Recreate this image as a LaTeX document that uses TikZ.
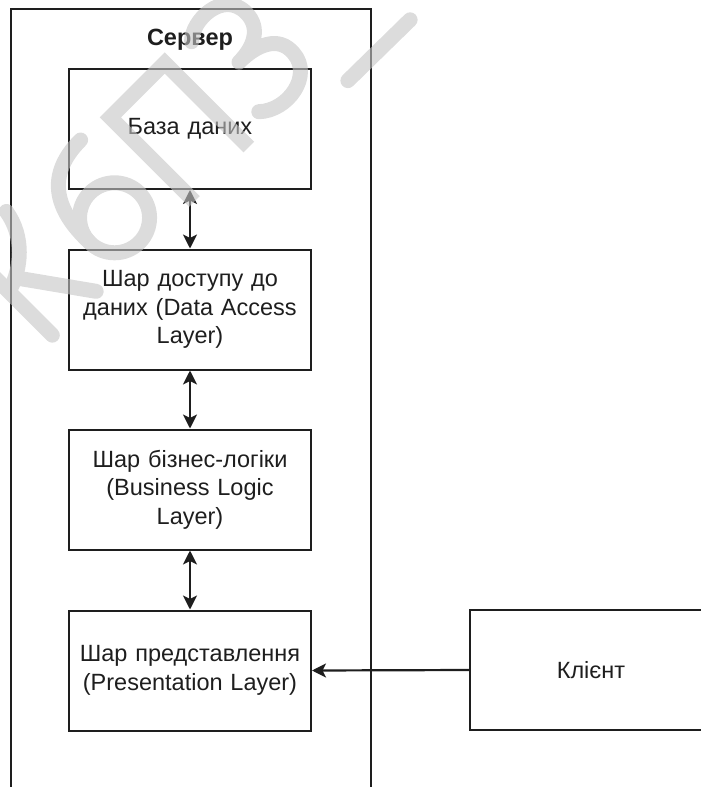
\documentclass[tikz,border=0pt]{standalone}
\usepackage{fontspec}
\setmainfont{Liberation Sans}
\usetikzlibrary{arrows.meta}

\definecolor{ink}{HTML}{1E1E1E}
\definecolor{wmgray}{RGB}{197,197,197}

\tikzset{
  boxtext/.style={font=\fontsize{23.5}{28.5}\selectfont, text=ink},
  layer/.style={boxtext, draw=ink, line width=2pt, minimum width=242pt,
    minimum height=120pt, inner sep=0pt, align=center, text width=238pt},
  container/.style={draw=ink, line width=2pt, minimum width=360pt,
    minimum height=820pt, inner sep=0pt, anchor=north west},
  >={Stealth[length=14pt, width=14pt, inset=3.5pt]},
  link/.style={draw=ink, line width=2.2pt, <->},
  feed/.style={draw=ink, line width=2.2pt, ->},
  wm/.style={draw=wmgray, line width=15pt, line cap=round, line join=round},
}

\begin{document}
\begin{tikzpicture}[x=1pt, y=-1pt]
  \useasboundingbox (0,0) rectangle (701,787);
  \clip (0,0) rectangle (701,787);

  % server container, open towards the bottom edge
  \node[container] (server) at (10,8) {};
  \node[boxtext, font=\fontsize{23.5}{28.5}\selectfont\bfseries] (title) at (190,40) {Сервер};

  % server layers
  \node[layer] (db)   at (190,129)   {База даних};
  \node[layer] (dal)  at (190,309.5) {Шар доступу до\\даних (Data Access\\Layer)};
  \node[layer] (bll)  at (190,489.5) {Шар бізнес-логіки\\(Business Logic\\Layer)};
  \node[layer] (pres) at (190,670.5) {Шар представлення\\(Presentation Layer)};

  % client
  \node[layer] (client) at (591,670) {Клієнт};

  % connectors
  \draw[link] (db.south)  -- (dal.north);
  \draw[link] (dal.south) -- (bll.north);
  \draw[link] (bll.south) -- (pres.north);
  \draw[feed] (client.west) -- (pres.east);

  % hand-stroked watermark, letters set along a 45 degree baseline
  \begin{scope}[transparency group, opacity=0.6]
    \begin{scope}[x={(0.7071pt,0.7071pt)}, y={(0.7071pt,-0.7071pt)}]
      % К
      \draw[wm] (-200,156) -- (-200,274);
      \draw[wm] (-198,212) .. controls (-175,205) and (-150,185) .. (-145,154);
      \draw[wm] (-185,208) -- (-138,274);
      % б
      \draw[wm] (-42,156) .. controls (-90,156) and (-110,185) .. (-108,235);
      \draw[wm] (-73,235) circle[radius=35];
      % П
      \draw[wm, line join=miter, line cap=butt] (-5,280) -- (-5,161) -- (72,161) -- (72,280);
      % З
      \draw[wm] (106,165) .. controls (120,150) and (165,150) .. (165,183)
                .. controls (165,205) and (145,213) .. (125,213)
                .. controls (150,213) and (172,222) .. (170,245)
                .. controls (168,275) and (125,282) .. (104,262);
      % dash
      \draw[wm] (189,303) -- (276,304);
    \end{scope}
  \end{scope}
\end{tikzpicture}
\end{document}
